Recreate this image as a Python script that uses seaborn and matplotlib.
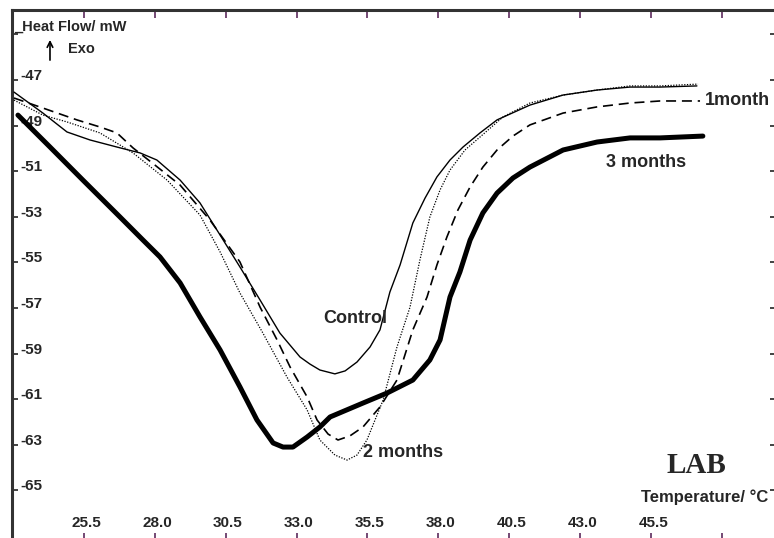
import numpy as np
import pandas as pd
import seaborn as sns
import matplotlib.pyplot as plt

# DSC thermograms, LAB sample
control_t = [23.03, 24.05, 24.90, 25.71, 26.66, 27.48, 28.07, 28.89, 29.59, 30.30,
             31.00, 31.71, 32.41, 33.12, 33.47, 33.82, 34.35, 34.71, 35.13, 35.59,
             35.94, 36.29, 36.65, 37.10, 37.53, 37.95, 38.41, 38.87, 39.47, 40.07,
             41.23, 42.40, 43.60, 44.76, 45.82, 47.12]
control_hf = [-47.53, -48.45, -49.28, -49.63, -49.94, -50.20, -50.51, -51.39, -52.39, -53.80,
              -55.20, -56.65, -58.10, -59.15, -59.46, -59.72, -59.89, -59.76, -59.37, -58.71,
              -57.96, -56.30, -55.11, -53.27, -52.18, -51.25, -50.51, -49.94, -49.32, -48.75,
              -48.10, -47.66, -47.44, -47.31, -47.31, -47.26]

m1_t = [23.03, 24.05, 25.25, 26.06, 26.66, 27.23, 28.00, 28.89, 29.94, 31.00,
        31.71, 32.31, 32.77, 33.37, 33.72, 34.11, 34.46, 34.88, 35.34, 35.94,
        36.54, 37.10, 37.60, 37.95, 38.30, 38.69, 39.12, 39.57, 40.07, 40.63,
        41.23, 42.40, 43.60, 44.76, 45.82, 47.23]
m1_hf = [-47.79, -48.23, -48.75, -49.06, -49.32, -49.98, -50.73, -51.61, -53.14, -54.98,
         -56.96, -58.40, -59.59, -60.90, -61.91, -62.53, -62.79, -62.61, -62.22, -61.34,
         -60.16, -57.96, -56.52, -55.11, -53.89, -52.70, -51.69, -50.82, -50.07, -49.46,
         -48.97, -48.45, -48.18, -48.01, -47.92, -47.92]

m2_t = [23.03, 24.05, 24.90, 26.06, 27.23, 28.43, 29.59, 30.30, 31.00, 31.81,
        32.66, 33.37, 33.82, 34.35, 34.78, 35.13, 35.48, 36.05, 36.54, 37.00,
        37.35, 37.70, 38.06, 38.41, 38.94, 39.47, 40.28, 41.23, 42.40, 43.60,
        44.76, 45.82, 47.16]
m2_hf = [-47.88, -48.54, -48.84, -49.32, -50.20, -51.39, -52.92, -54.54, -56.34, -58.10,
         -60.03, -61.47, -62.79, -63.45, -63.67, -63.45, -62.79, -61.04, -58.71, -56.96,
         -54.89, -53.01, -51.82, -50.95, -50.07, -49.50, -48.62, -48.01, -47.66, -47.44,
         -47.26, -47.26, -47.18]

m3_t = [23.17, 24.30, 25.46, 26.77, 27.58, 28.18, 28.89, 29.59, 30.30, 31.00,
        31.60, 32.17, 32.52, 32.87, 33.37, 33.82, 34.18, 35.34, 36.19, 37.10,
        37.70, 38.06, 38.41, 38.76, 39.12, 39.57, 40.07, 40.63, 41.23, 42.40,
        43.60, 44.76, 45.82, 47.33]
m3_hf = [-48.54, -49.94, -51.39, -53.01, -54.02, -54.76, -55.90, -57.39, -58.84, -60.46,
         -61.91, -62.92, -63.10, -63.10, -62.66, -62.22, -61.78, -61.17, -60.73, -60.16,
         -59.28, -58.40, -56.52, -55.42, -54.02, -52.83, -51.96, -51.30, -50.82, -50.07,
         -49.72, -49.54, -49.54, -49.46]

x_ticks = [25.5, 28.0, 30.5, 33.0, 35.5, 38.0, 40.5, 43.0, 45.5, 48.0]
x_labels = ['25.5', '28.0', '30.5', '33.0', '35.5', '38.0', '40.5', '43.0', '45.5']
y_ticks = [-45, -47, -49, -51, -53, -55, -57, -59, -61, -63, -65]
y_labels = ['-47', '-49', '-51', '-53', '-55', '-57', '-59', '-61', '-63', '-65']

sns.set_style('white')
plt.rcParams['font.family'] = ['Liberation Sans', 'DejaVu Sans']
plt.rcParams['font.weight'] = 'bold'

fig = plt.figure(figsize=(7.74, 5.38), dpi=100)
# frame runs off the right and bottom edges like the cropped original
ax = fig.add_axes([12 / 774, -3 / 538, 764 / 774, 531 / 538])

curves = [
    (control_t, control_hf, dict(lw=1.0, ls='-')),
    (m1_t, m1_hf, dict(lw=1.2, ls=(0, (6, 3.5)))),
    (m2_t, m2_hf, dict(lw=0.9, ls=(0, (1, 1.2)))),
    (m3_t, m3_hf, dict(lw=3.6, ls='-')),
]
for t, hf, style in curves:
    sns.lineplot(x=t, y=hf, ax=ax, color='black', sort=False, estimator=None,
                 zorder=3, solid_joinstyle='round', solid_capstyle='round', **style)

ax.set_xlim(22.96, 49.91)
ax.set_ylim(-67.22, -43.93)

ax.set_xticks(x_ticks)
ax.set_yticks(y_ticks)
ax.tick_params(axis='x', direction='in', top=True, bottom=True, length=6, width=1.2,
               color='#5c2a5c', labelbottom=False)
ax.tick_params(axis='y', direction='in', left=True, right=True, length=4, width=1.2,
               color='#222222', labelleft=False)

for side in ['left', 'top', 'right', 'bottom']:
    ax.spines[side].set_color('#333333')
    ax.spines[side].set_linewidth(2.2)

for val, lab in zip(x_ticks, x_labels):
    ax.text(val + 0.08, -66.45, lab, ha='center', va='center', fontsize=11, fontweight='bold')
for val, lab in zip(y_ticks[1:], y_labels):
    ax.text(23.24, val, lab, ha='left', va='baseline', fontsize=11, fontweight='bold', zorder=1)

ax.text(23.03, -44.68, '_Heat Flow/ mW', ha='left', va='center', fontsize=10.5, fontweight='bold')
ax.annotate('', xy=(24.30, -45.12), xytext=(24.30, -46.25),
            arrowprops=dict(arrowstyle='->', color='black', lw=1.2))
ax.text(24.94, -45.62, 'Exo', ha='left', va='center', fontsize=10.5, fontweight='bold')

ax.text(35.06, -57.44, 'Control', ha='center', va='center', fontsize=13, fontweight='bold')
ax.text(36.75, -63.35, '2 months', ha='center', va='center', fontsize=13, fontweight='bold')
ax.text(47.4, -47.92, '1month', ha='left', va='center', fontsize=13, fontweight='bold')
ax.text(45.32, -50.6, '3 months', ha='center', va='center', fontsize=13, fontweight='bold')
ax.text(47.1, -63.89, 'LAB', ha='center', va='center', fontsize=21, fontweight='bold',
        family=['Liberation Serif', 'DejaVu Serif'])
ax.text(49.63, -65.3, 'Temperature/ °C', ha='right', va='center', fontsize=12, fontweight='bold')

fig.savefig('out.png', dpi=100)
